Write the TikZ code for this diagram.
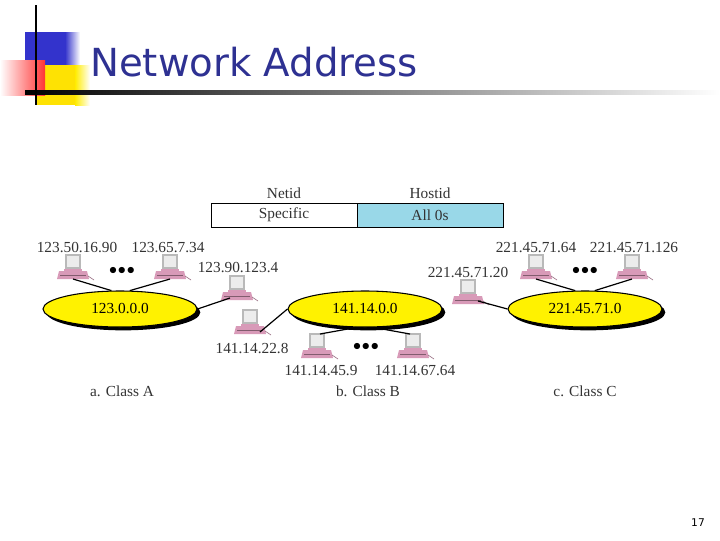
\documentclass[tikz,border=0pt]{standalone}
\usepackage{fontspec}
\setmainfont{Liberation Serif}
\newfontfamily\titlefont{DejaVu Sans}
\usetikzlibrary{shapes.geometric,shadows}
\definecolor{navy}{HTML}{2E3192}
\definecolor{hostblue}{HTML}{99D8E8}
\definecolor{pinkpc}{HTML}{D89AB8}
\begin{document}
\begin{tikzpicture}[x=0.75pt,y=-0.75pt,
  net/.style={ellipse,draw=black,line width=0.8pt,fill=yellow,minimum width=115.5pt,minimum height=27pt,inner sep=0pt,font=\fontsize{11.5}{14}\selectfont,
    drop shadow={shadow xshift=2.5pt,shadow yshift=-2.5pt,fill=black,opacity=1}},
  lbl/.style={font=\fontsize{11.5}{14}\selectfont,text=black!80,inner sep=0pt},
  dots/.style={font=\bfseries\fontsize{12}{14}\selectfont,inner sep=0pt},
  link/.style={line width=0.9pt},
  pc/.pic={
    \fill[pinkpc] (-14,3) -- (14,3) -- (16,11) -- (-16,11) -- cycle;
    \draw[pinkpc!60!black,line width=0.3pt] (-13,7) -- (13,7);
    \fill[pinkpc] (-9,1) rectangle (9,3);
    \fill[gray!55] (-8,-14) rectangle (8,1);
    \fill[gray!15] (-6,-12) rectangle (6,-1);
    \draw[pinkpc!70!black,line width=0.5pt] (15,8) -- (21,12);
  }]
\useasboundingbox (0,0) rectangle (720,540);
% decoration
\fill[blue!75!black!80] (25,32) rectangle (65,75);
\shade[left color=blue!75!black!80,right color=white] (65,32) rectangle (80,75);
\fill[yellow!85!orange] (35,65) rectangle (75,105);
\shade[left color=yellow!85!orange,right color=white] (75,65) rectangle (90,105);
\shade[left color=white,right color=red!80] (0,60) rectangle (45,95);
\shade[left color=black,right color=white] (25,90) rectangle (720,94);
\draw[line width=1.5pt] (36,5) -- (36,105);
\node[anchor=west,inner sep=0pt,text=navy,font=\titlefont\fontsize{29}{32}\selectfont] (title) at (90,62) {Network Address};
% header box
\node[lbl] (netid) at (284,193) {Netid};
\node[lbl] (hostid) at (430,193) {Hostid};
\node[draw,line width=0.6pt,minimum width=109.5pt,minimum height=18pt,inner sep=0pt,lbl] (spec) at (284,215) {Specific};
\node[draw,line width=0.6pt,fill=hostblue,minimum width=109.5pt,minimum height=18pt,inner sep=0pt,lbl] (all) at (430,215) {All 0s};
% networks
\node[net] (na) at (120,309) {123.0.0.0};
\node[net] (nb) at (365,309) {141.14.0.0};
\node[net] (nc) at (585,309) {221.45.71.0};
% computers
\pic at (73,268) {pc}; \coordinate (a1) at (73,279);
\pic at (170,268) {pc}; \coordinate (a2) at (170,279);
\pic at (237,289) {pc}; \coordinate (a3) at (230,298);
\pic at (250,323) {pc}; \coordinate (b1) at (260,332);
\pic at (317,347) {pc}; \coordinate (b2) at (320,334);
\pic at (413,347) {pc}; \coordinate (b3) at (410,334);
\pic at (468,293) {pc}; \coordinate (c1) at (478,301);
\pic at (536,268) {pc}; \coordinate (c2) at (536,279);
\pic at (632,268) {pc}; \coordinate (c3) at (632,279);
\draw[link] (a1) -- (na.115);
\draw[link] (a2) -- (na.62);
\draw[link] (a3) -- (na.east);
\draw[link] (b1) -- (nb.west);
\draw[link] (b2) -- (nb.245);
\draw[link] (b3) -- (nb.295);
\draw[link] (c1) -- (nc.west);
\draw[link] (c2) -- (nc.118);
\draw[link] (c3) -- (nc.62);
% labels
\node[lbl] (la1) at (77,248) {123.50.16.90};
\node[lbl] (la2) at (168,248) {123.65.7.34};
\node[lbl] (la3) at (238,268) {123.90.123.4};
\node[lbl] (lb1) at (252,348) {141.14.22.8};
\node[lbl] (lb2) at (321,371) {141.14.45.9};
\node[lbl] (lb3) at (415,371) {141.14.67.64};
\node[lbl] (lc1) at (468,273) {221.45.71.20};
\node[lbl] (lc2) at (536,248) {221.45.71.64};
\node[lbl] (lc3) at (634,248) {221.45.71.126};
\node[dots] (da) at (122,271) {$\bullet\!\bullet\!\bullet$};
\node[dots] (db) at (366,347) {$\bullet\!\bullet\!\bullet$};
\node[dots] (dc) at (585,271) {$\bullet\!\bullet\!\bullet$};
\node[lbl] (capa) at (122,391) {a. Class A};
\node[lbl] (capb) at (368,391) {b. Class B};
\node[lbl] (capc) at (585,391) {c. Class C};
\node[inner sep=0pt,font=\titlefont\fontsize{8}{10}\selectfont] (page) at (698,523) {17};
\end{tikzpicture}
\end{document}
